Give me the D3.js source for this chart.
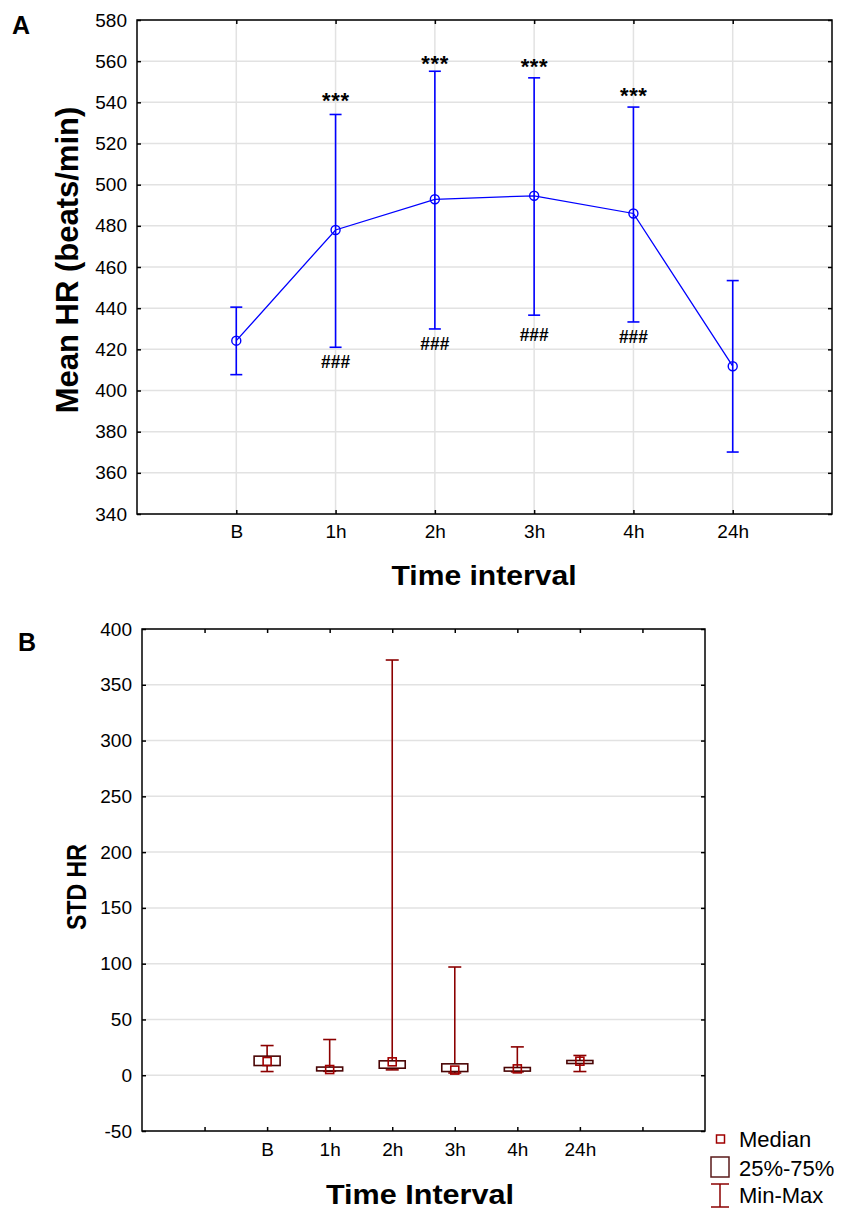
<!DOCTYPE html>
<html lang="en">
<head>
  <meta charset="UTF-8">
  <title>Mean HR and STD HR by time interval</title>
  <script src="https://d3js.org/d3.v7.min.js"></script>
  <style>
    body { margin: 0; background: #fff; }
    svg text { fill: #000; }
  </style>
</head>
<body>
  <div id="viz"></div>

  <script>
    // Panel A: mean HR with error bars
    const categories = ['B', '1h', '2h', '3h', '4h', '24h'];
    const meanHR = [424.2, 478, 492.9, 494.6, 486, 411.8];
    const hrLow  = [407.7, 421, 429.9, 436.6, 433.3, 370.1];
    const hrHigh = [440.5, 534.1, 555.1, 551.9, 537.7, 453.4];
    const starText = ['', '***', '***', '***', '***', ''];
    const starAt   = [null, 542.5, 560.5, 559, 545, null];
    const hashText = ['', '###', '###', '###', '###', ''];
    const hashAt   = [null, 414, 423, 427, 426.2, null];
    const hrTicks = d3.range(340, 581, 20);

    // Panel B: STD HR box plot
    const stdMin    = [3.3, 3.5, 4.8, 2, 3, 3.3];
    const stdQ1     = [8.7, 3.9, 6.3, 3.3, 3.7, 10.5];
    const stdMedian = [12.3, 5.1, 12, 4.6, 5.7, 12.6];
    const stdQ3     = [17.1, 7.3, 12.9, 10.2, 6.9, 13.2];
    const stdMax    = [26.6, 32, 372.2, 97, 25.4, 17.7];
    const stdTicks = d3.range(-50, 401, 50);
    const legendItems = ['Median', '25%-75%', 'Min-Max'];

    const svg = d3.select('#viz').append('svg')
      .attr('width', 845).attr('height', 1212);

    const font = '"Liberation Sans", Arial, sans-serif';
    const gridColor = '#e2e2e2';

    // ---------- Panel A ----------
    const xA = d3.scaleLinear().domain([0, 7]).range([137, 832]);
    const yA = d3.scaleLinear().domain([340, 580]).range([514, 20]);
    const catPosA = categories.map((c, i) => i + 1);

    const gA = svg.append('g');

    // grid
    gA.append('g').selectAll('line').data(hrTicks).join('line')
      .attr('x1', xA(0)).attr('x2', xA(7))
      .attr('y1', d => yA(d)).attr('y2', d => yA(d))
      .attr('stroke', gridColor).attr('stroke-width', 1.5);
    gA.append('g').selectAll('line').data(catPosA).join('line')
      .attr('x1', d => xA(d)).attr('x2', d => xA(d))
      .attr('y1', yA(340)).attr('y2', yA(580))
      .attr('stroke', gridColor).attr('stroke-width', 1.5);

    // axes (ticks inward)
    const fmtCat = d => categories[d - 1] || '';
    gA.append('g').attr('transform', `translate(0,${yA(340)})`)
      .call(d3.axisBottom(xA).tickValues(catPosA).tickFormat(fmtCat).tickSize(-4).tickPadding(11))
      .call(styleAxis);
    gA.append('g').attr('transform', `translate(0,${yA(580)})`)
      .call(d3.axisTop(xA).tickValues(catPosA).tickFormat('').tickSize(-4))
      .call(styleAxis);
    gA.append('g').attr('transform', `translate(${xA(0)},0)`)
      .call(d3.axisLeft(yA).tickValues(hrTicks).tickFormat(d => String(d)).tickSize(-4).tickPadding(10))
      .call(styleAxis);
    gA.append('g').attr('transform', `translate(${xA(7)},0)`)
      .call(d3.axisRight(yA).tickValues(hrTicks).tickFormat('').tickSize(-4))
      .call(styleAxis);

    // error bars
    const blue = '#0000ff';
    const eb = gA.append('g').selectAll('g').data(categories).join('g');
    eb.append('line')
      .attr('x1', (d, i) => xA(catPosA[i])).attr('x2', (d, i) => xA(catPosA[i]))
      .attr('y1', (d, i) => yA(hrLow[i])).attr('y2', (d, i) => yA(hrHigh[i]))
      .attr('stroke', blue).attr('stroke-width', 1.6);
    [hrLow, hrHigh].forEach(arr => {
      eb.append('line')
        .attr('x1', (d, i) => xA(catPosA[i]) - 6).attr('x2', (d, i) => xA(catPosA[i]) + 6)
        .attr('y1', (d, i) => yA(arr[i])).attr('y2', (d, i) => yA(arr[i]))
        .attr('stroke', blue).attr('stroke-width', 1.6);
    });

    // mean line and markers
    gA.append('path')
      .datum(meanHR)
      .attr('d', d3.line().x((d, i) => xA(catPosA[i])).y(d => yA(d)))
      .attr('fill', 'none').attr('stroke', blue).attr('stroke-width', 1.3);
    gA.append('g').selectAll('circle').data(meanHR).join('circle')
      .attr('cx', (d, i) => xA(catPosA[i])).attr('cy', d => yA(d))
      .attr('r', 4.5).attr('fill', 'none').attr('stroke', blue).attr('stroke-width', 1.4);

    // significance marks
    const marked = categories.map((c, i) => i).filter(i => starAt[i] != null);
    gA.append('g').selectAll('text').data(marked).join('text')
      .attr('x', i => xA(catPosA[i]))
      .attr('y', i => yA(starAt[i]) + 11)
      .attr('text-anchor', 'middle')
      .attr('textLength', 27).attr('lengthAdjust', 'spacing')
      .style('font', `bold 22px ${font}`)
      .text(i => starText[i]);
    gA.append('g').selectAll('text').data(marked).join('text')
      .attr('x', i => xA(catPosA[i]))
      .attr('y', i => yA(hashAt[i]) + 6.5)
      .attr('text-anchor', 'middle')
      .attr('textLength', 29).attr('lengthAdjust', 'spacingAndGlyphs')
      .style('font', `bold 18px ${font}`)
      .text(i => hashText[i]);

    // frame
    gA.append('rect')
      .attr('x', xA(0)).attr('y', yA(580))
      .attr('width', xA(7) - xA(0)).attr('height', yA(340) - yA(580))
      .attr('fill', 'none').attr('stroke', '#000').attr('stroke-width', 1.5);

    // titles
    svg.append('text').attr('x', 12).attr('y', 34)
      .style('font', `bold 25px ${font}`).text('A');
    svg.append('text')
      .attr('transform', 'translate(78,260) rotate(-90)')
      .attr('text-anchor', 'middle')
      .style('font', `bold 31px ${font}`)
      .text('Mean HR (beats/min)');
    svg.append('text').attr('x', 484).attr('y', 585)
      .attr('text-anchor', 'middle')
      .attr('textLength', 185).attr('lengthAdjust', 'spacingAndGlyphs')
      .style('font', `bold 28px ${font}`)
      .text('Time interval');

    // ---------- Panel B ----------
    const xB = d3.scaleLinear().domain([0, 9]).range([142, 705]);
    const yB = d3.scaleLinear().domain([-50, 400]).range([1131, 629]);
    const catPosB = categories.map((c, i) => i + 2);
    const tickPosB = d3.range(1, 9);

    const gB = svg.append('g');

    gB.append('g').selectAll('line').data(stdTicks).join('line')
      .attr('x1', xB(0)).attr('x2', xB(9))
      .attr('y1', d => yB(d)).attr('y2', d => yB(d))
      .attr('stroke', gridColor).attr('stroke-width', 1.5);

    const fmtCatB = d => categories[d - 2] || '';
    gB.append('g').attr('transform', `translate(0,${yB(-50)})`)
      .call(d3.axisBottom(xB).tickValues(tickPosB).tickFormat(fmtCatB).tickSize(-4).tickPadding(12))
      .call(styleAxis);
    gB.append('g').attr('transform', `translate(0,${yB(400)})`)
      .call(d3.axisTop(xB).tickValues(tickPosB).tickFormat('').tickSize(-4))
      .call(styleAxis);
    gB.append('g').attr('transform', `translate(${xB(0)},0)`)
      .call(d3.axisLeft(yB).tickValues(stdTicks).tickFormat(d => String(d)).tickSize(-4).tickPadding(10))
      .call(styleAxis);
    gB.append('g').attr('transform', `translate(${xB(9)},0)`)
      .call(d3.axisRight(yB).tickValues(stdTicks).tickFormat('').tickSize(-4))
      .call(styleAxis);

    const whisker = '#8b0000';
    const boxStroke = '#4a0505';
    const medStroke = '#a00000';
    const boxes = gB.append('g').selectAll('g').data(categories).join('g');
    boxes.append('line')
      .attr('x1', (d, i) => xB(catPosB[i])).attr('x2', (d, i) => xB(catPosB[i]))
      .attr('y1', (d, i) => yB(stdMin[i])).attr('y2', (d, i) => yB(stdMax[i]))
      .attr('stroke', whisker).attr('stroke-width', 1.6);
    [stdMin, stdMax].forEach(arr => {
      boxes.append('line')
        .attr('x1', (d, i) => xB(catPosB[i]) - 6.5).attr('x2', (d, i) => xB(catPosB[i]) + 6.5)
        .attr('y1', (d, i) => yB(arr[i])).attr('y2', (d, i) => yB(arr[i]))
        .attr('stroke', whisker).attr('stroke-width', 1.6);
    });
    boxes.append('rect')
      .attr('x', (d, i) => xB(catPosB[i]) - 13)
      .attr('y', (d, i) => yB(stdQ3[i]))
      .attr('width', 26)
      .attr('height', (d, i) => yB(stdQ1[i]) - yB(stdQ3[i]))
      .attr('fill', '#fff').attr('stroke', boxStroke).attr('stroke-width', 1.6);
    boxes.append('rect')
      .attr('x', (d, i) => xB(catPosB[i]) - 4)
      .attr('y', (d, i) => yB(stdMedian[i]) - 4)
      .attr('width', 8).attr('height', 8)
      .attr('fill', 'none').attr('stroke', medStroke).attr('stroke-width', 1.6);

    gB.append('rect')
      .attr('x', xB(0)).attr('y', yB(400))
      .attr('width', xB(9) - xB(0)).attr('height', yB(-50) - yB(400))
      .attr('fill', 'none').attr('stroke', '#000').attr('stroke-width', 1.5);

    svg.append('text').attr('x', 18).attr('y', 651)
      .style('font', `bold 25px ${font}`).text('B');
    svg.append('text')
      .attr('transform', 'translate(86,887) rotate(-90)')
      .attr('text-anchor', 'middle')
      .attr('textLength', 86).attr('lengthAdjust', 'spacingAndGlyphs')
      .style('font', `bold 28px ${font}`)
      .text('STD HR');
    svg.append('text').attr('x', 420).attr('y', 1204)
      .attr('text-anchor', 'middle')
      .attr('textLength', 188).attr('lengthAdjust', 'spacingAndGlyphs')
      .style('font', `bold 28px ${font}`)
      .text('Time Interval');

    // legend
    const lg = svg.append('g');
    lg.append('rect').attr('x', 716.5).attr('y', 1135).attr('width', 8).attr('height', 8)
      .attr('fill', 'none').attr('stroke', medStroke).attr('stroke-width', 1.5);
    lg.append('rect').attr('x', 711).attr('y', 1157).attr('width', 18).attr('height', 20)
      .attr('fill', 'none').attr('stroke', '#5a1a1a').attr('stroke-width', 1.5);
    lg.append('line').attr('x1', 720).attr('x2', 720).attr('y1', 1184).attr('y2', 1207)
      .attr('stroke', whisker).attr('stroke-width', 1.5);
    [1184, 1207].forEach(y => lg.append('line')
      .attr('x1', 711).attr('x2', 729).attr('y1', y).attr('y2', y)
      .attr('stroke', whisker).attr('stroke-width', 1.5));
    lg.selectAll('text.leg').data(legendItems).join('text')
      .attr('class', 'leg')
      .attr('x', 739)
      .attr('y', (d, i) => [1146.5, 1175.5, 1202.5][i])
      .style('font', `22px ${font}`)
      .text(d => d);

    function styleAxis(g) {
      g.select('.domain').remove();
      g.selectAll('.tick line').attr('stroke', '#000').attr('stroke-width', 1.5);
      g.selectAll('.tick text').style('font', `19px ${font}`).attr('fill', '#000');
    }
  </script>
</body>
</html>
